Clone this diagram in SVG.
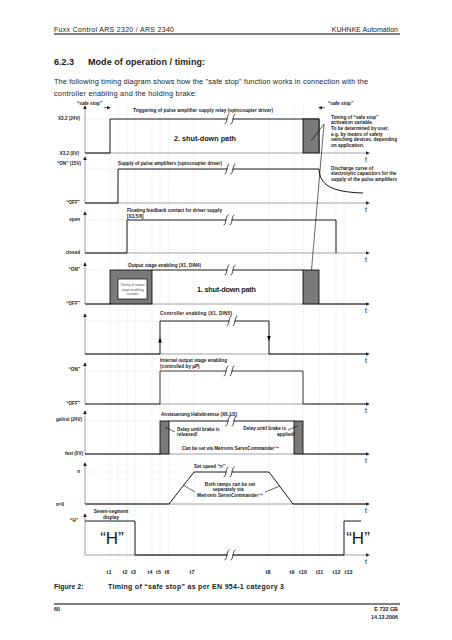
<svg xmlns="http://www.w3.org/2000/svg" width="452" height="640" viewBox="0 0 452 640">
<defs>
<style>
text{font-family:"Liberation Sans",Arial,sans-serif;fill:#1a1a1a}
.h{font-size:7px}
.p{font-size:7.3px}
.hd{font-size:9px;font-weight:bold}
.s{font-size:4.7px;font-weight:bold}
.l{font-size:4.6px;font-weight:bold;text-anchor:end}
.c{text-anchor:middle}
.e{text-anchor:end}
.t{font-size:7px}
.tk{font-size:5.4px;font-weight:bold;text-anchor:middle}
.sd{font-size:7.3px;font-weight:bold}
.big{font-size:17px;text-anchor:middle}
.in{font-size:3.4px;fill:#555;text-anchor:middle}
.sig{fill:none;stroke:#000;stroke-width:0.9}
.ax{fill:none;stroke:#b4b4b4;stroke-width:1.3}
.bl{fill:none;stroke:#8a8a8a;stroke-width:0.8}
.grid{stroke:#cdcdcd;stroke-width:0.6;stroke-dasharray:1 1.5}
.box{fill:#7a7a7a;stroke:#000;stroke-width:0.8}
.ptr{fill:none;stroke:#000;stroke-width:0.6}
.rule{stroke:#000;stroke-width:1.2}
</style>
<marker id="ar" viewBox="0 0 6 6" refX="5" refY="3" markerWidth="4" markerHeight="4" markerUnits="userSpaceOnUse" orient="auto"><path d="M0,0L6,3L0,6z" fill="#222"/></marker>
<g id="brk"><rect x="-2.6" y="-1.4" width="5.2" height="2.8" fill="#fff"/><path d="M-5.5,5 C-2.5,5 -3.5,-5 -0.5,-5 M0.5,5 C3.5,5 2.5,-5 5.5,-5" fill="none" stroke="#000" stroke-width="0.7"/></g>
</defs>
<rect width="452" height="640" fill="#fff"/>

<g id="page">
<text class="h" x="54" y="31.5" textLength="120">Fuxx Control ARS 2320 / ARS 2340</text>
<text class="h e" x="398" y="31.5">KUHNKE Automation</text>
<line class="rule" x1="54" y1="34" x2="400" y2="34"/>
<text class="hd" x="54" y="64.5">6.2.3</text>
<text class="hd" x="88" y="64.5" textLength="117">Mode of operation / timing:</text>
<text class="p" x="54" y="84.3" textLength="314">The following timing diagram shows how the "safe stop" function works in connection with the</text>
<text class="p" x="54" y="96" textLength="143">controller enabling and the holding brake:</text>
<text class="hd" style="font-size:7px" x="54" y="589.3">Figure 2:</text>
<text class="hd" style="font-size:7px" x="108" y="589.3" textLength="176">Timing of “safe stop” as per EN 954-1 category 3</text>
<line class="rule" x1="54" y1="604" x2="400" y2="604"/>
<text class="s" style="font-size:5.4px" x="54" y="611">60</text>
<text class="s e" style="font-size:5.4px" x="398" y="611">E 732 GB</text>
<text class="s e" style="font-size:5.4px" x="398" y="618.5">14.12.2006</text>
</g>

<g id="grid">
<line class="grid" x1="110" y1="104" x2="110" y2="560"/>
<line class="grid" x1="118" y1="104" x2="118" y2="560"/>
<line class="grid" x1="127" y1="104" x2="127" y2="560"/>
<line class="grid" x1="135" y1="104" x2="135" y2="560"/>
<line class="grid" x1="152" y1="104" x2="152" y2="560"/>
<line class="grid" x1="160" y1="104" x2="160" y2="560"/>
<line class="grid" x1="169" y1="104" x2="169" y2="560"/>
<line class="grid" x1="194" y1="104" x2="194" y2="560"/>
<line class="grid" x1="269" y1="104" x2="269" y2="560"/>
<line class="grid" x1="294" y1="104" x2="294" y2="560"/>
<line class="grid" x1="303" y1="104" x2="303" y2="560"/>
<line class="grid" x1="319" y1="104" x2="319" y2="560"/>
<line class="grid" x1="336" y1="104" x2="336" y2="560"/>
<line class="grid" x1="344" y1="104" x2="344" y2="560"/>
<line class="grid" x1="85" y1="119" x2="110" y2="119"/>
<line class="grid" x1="85" y1="169" x2="118" y2="169"/>
<line class="grid" x1="85" y1="220" x2="127" y2="220"/>
<line class="grid" x1="85" y1="270" x2="110" y2="270"/>
<line class="grid" x1="85" y1="321" x2="160" y2="321"/>
<line class="grid" x1="85" y1="371" x2="160" y2="371"/>
<line class="grid" x1="85" y1="421" x2="160" y2="421"/>
<line class="grid" x1="85" y1="472" x2="194" y2="472"/>
</g>

<g id="axes">
<line class="ax" x1="85" y1="153" x2="85" y2="106" marker-end="url(#ar)"/>
<line class="ax" x1="85" y1="203" x2="85" y2="157" marker-end="url(#ar)"/>
<line class="ax" x1="85" y1="253" x2="85" y2="212" marker-end="url(#ar)"/>
<line class="ax" x1="85" y1="304" x2="85" y2="263" marker-end="url(#ar)"/>
<line class="ax" x1="85" y1="354" x2="85" y2="314" marker-end="url(#ar)"/>
<line class="ax" x1="85" y1="404" x2="85" y2="363" marker-end="url(#ar)"/>
<line class="ax" x1="85" y1="454" x2="85" y2="411" marker-end="url(#ar)"/>
<line class="ax" x1="85" y1="504" x2="85" y2="463" marker-end="url(#ar)"/>
<line class="ax" x1="85" y1="555" x2="85" y2="514" marker-end="url(#ar)"/>
<line class="bl" x1="85" y1="153" x2="369" y2="153" marker-end="url(#ar)"/>
<line class="bl" x1="85" y1="203" x2="369" y2="203" marker-end="url(#ar)"/>
<line class="bl" x1="85" y1="253" x2="369" y2="253" marker-end="url(#ar)"/>
<line class="bl" x1="85" y1="304" x2="369" y2="304" marker-end="url(#ar)"/>
<line class="bl" x1="85" y1="354" x2="369" y2="354" marker-end="url(#ar)"/>
<line class="bl" x1="85" y1="404" x2="369" y2="404" marker-end="url(#ar)"/>
<line class="bl" x1="85" y1="454" x2="369" y2="454" marker-end="url(#ar)"/>
<line class="bl" x1="85" y1="504" x2="369" y2="504" marker-end="url(#ar)"/>
<line class="bl" x1="85" y1="555" x2="369" y2="555" marker-end="url(#ar)"/>
<text class="t" x="365" y="162">t</text>
<text class="t" x="365" y="212">t</text>
<text class="t" x="365" y="262">t</text>
<text class="t" x="365" y="313">t</text>
<text class="t" x="365" y="363">t</text>
<text class="t" x="365" y="413">t</text>
<text class="t" x="365" y="463">t</text>
<text class="t" x="365" y="513">t</text>
<text class="t" x="365" y="564">t</text>
</g>

<g id="sig1">
<text class="s" x="77" y="105">“safe stop”</text>
<line class="ptr" x1="104" y1="107.7" x2="110" y2="107.7" marker-end="url(#ar)"/>
<text class="l" x="80" y="120">X3.2 (24V)</text>
<text class="l" x="79" y="155">X3.2 (0V)</text>
<text class="s" x="133" y="111.5" textLength="140">Triggering of pulse amplifier supply relay (optocoupler driver)</text>
<polyline class="sig" points="85,153 110,153 110,119 319,119 319,153"/>
<rect class="box" x="303" y="119" width="16" height="34"/>
<text class="sd" x="174" y="141" textLength="62">2. shut-down path</text>
<line class="ptr" x1="325" y1="107.7" x2="319" y2="107.7" marker-end="url(#ar)"/>
<text class="s" x="328" y="105">“safe stop”</text>
<text class="s" x="331" y="118.5">Timing of “safe stop”</text>
<text class="s" x="331" y="124.2">activation variable.</text>
<text class="s" x="331" y="129.9">To be determined by user,</text>
<text class="s" x="331" y="135.6">e.g. by means of safety</text>
<text class="s" x="331" y="141.3" textLength="66">switching devices, depending</text>
<text class="s" x="331" y="147">on application.</text>
<polyline class="ptr" points="311,141 324,124 311,276"/>
</g>

<g id="sig2">
<text class="l" x="81" y="165">“ON” (15V)</text>
<text class="l" x="80" y="204">“OFF”</text>
<text class="s" x="118" y="164.5" textLength="104">Supply of pulse amplifiers (optocoupler driver)</text>
<polyline class="sig" points="85,203 118,203 118,169 319,169"/>
<path class="sig" d="M319,169 C320,185 331,192 363,193"/>
<text class="s" x="331" y="169.5">Discharge curve of</text>
<text class="s" x="331" y="175.2">electrolytic capacitors for the</text>
<text class="s" x="331" y="180.9">supply of the pulse amplifiers</text>
</g>

<g id="sig3">
<text class="l" x="80" y="221">open</text>
<text class="l" x="80" y="254">closed</text>
<text class="s" x="127" y="212" textLength="95">Floating feedback contact for driver supply</text>
<text class="s" x="127" y="217.8">[X3.5/6]</text>
<polyline class="sig" points="85,253 127,253 127,220 336,220 336,253"/>
</g>

<g id="sig4">
<text class="l" x="80" y="271">“ON”</text>
<text class="l" x="80" y="305">“OFF”</text>
<text class="s" x="128" y="266.5" textLength="73">Output stage enabling (X1, DIN4)</text>
<polyline class="sig" points="85,304 110,304"/>
<rect class="box" x="110" y="270" width="42" height="34"/>
<rect x="118" y="279" width="29" height="20" fill="#fff" stroke="#000" stroke-width="0.7"/>
<text class="in" x="132.5" y="286.2">Timing of output</text>
<text class="in" x="132.5" y="290.5">stage enabling</text>
<text class="in" x="132.5" y="295.2">variable</text>
<polyline class="sig" points="152,270 303,270"/>
<rect class="box" x="303" y="270" width="16" height="34"/>
<polyline class="sig" points="319,304 366,304"/>
<text class="sd" x="197" y="291.5" textLength="59">1. shut-down path</text>
</g>

<g id="sig5">
<text class="s" x="160" y="314.5" textLength="72">Controller enabling (X1, DIN5)</text>
<polyline class="sig" points="85,354 160,354 160,321 269,321 269,354 366,354"/>
<polygon points="158.2,342.5 161.8,342.5 160,337.5" fill="#000"/>
<polygon points="267.2,336 270.8,336 269,341" fill="#000"/>
</g>

<g id="sig6">
<text class="l" x="80" y="371">“ON”</text>
<text class="l" x="80" y="405">“OFF”</text>
<text class="s" x="160" y="361.5" textLength="67">Internal output stage enabling</text>
<text class="s" x="160" y="367.5">(controlled by µP)</text>
<polyline class="sig" points="85,404 160,404 160,371 303,371 303,404 366,404" style="stroke:#222"/>
</g>

<g id="sig7">
<text class="l" x="82" y="421">gelöst (24V)</text>
<text class="l" x="83" y="455">fest (0V)</text>
<text class="s" x="161" y="415.5" textLength="76">Ansteuerung Haltebremse (X6.1/2)</text>
<polyline class="sig" points="85,454 160,454"/>
<polyline class="sig" points="169,421 294,421"/>
<rect class="box" x="160" y="421" width="9" height="33"/>
<rect class="box" x="294" y="421" width="9" height="33"/>
<polyline class="sig" points="303,454 366,454"/>
<text class="s" x="177" y="430.5">Delay until brake is</text>
<text class="s" x="177" y="436.3">released!</text>
<line class="ptr" x1="165" y1="427" x2="175" y2="432"/>
<text class="s e" x="286" y="430">Delay until brake is</text>
<text class="s e" x="295" y="435.8">applied!</text>
<line class="ptr" x1="288" y1="430" x2="298" y2="426"/>
<text class="s" x="182" y="449.5" textLength="97">Can be set via Metronis ServoCommander™</text>
</g>

<g id="sig8">
<text class="l" x="80" y="473">n</text>
<text class="l" x="64" y="506">n=0</text>
<text class="s" x="194" y="467.5">Set speed “n”</text>
<polyline class="sig" points="85,504 169,504 194,472 269,472 293,504 366,504"/>
<text class="s c" x="230" y="485.5">Both ramps can be set</text>
<text class="s c" x="228" y="491.3">separately via</text>
<text class="s c" x="230" y="497.1">Metronis ServoCommander™</text>
<line class="ptr" x1="183" y1="485" x2="195" y2="492"/>
<line class="ptr" x1="265" y1="492" x2="280" y2="486"/>
</g>

<g id="sig9">
<text class="l" x="78" y="522">“H”</text>
<text class="s c" x="111" y="512.5">Seven-segment</text>
<text class="s c" x="111" y="518.5">display</text>
<polyline class="sig" points="85,521 135,521 135,555"/>
<line x1="135" y1="555" x2="344" y2="555" stroke="#444" stroke-width="1.4"/>
<polyline class="sig" points="344,555 344,521 361,521"/>
<text class="big" x="112" y="544">“H”</text>
<text class="big" x="358" y="544">“H”</text>
</g>

<g id="breaks">
<use href="#brk" x="230" y="119"/>
<use href="#brk" x="230" y="169"/>
<use href="#brk" x="229" y="220"/>
<use href="#brk" x="230" y="270"/>
<use href="#brk" x="232" y="321"/>
<use href="#brk" x="229" y="371"/>
<use href="#brk" x="231" y="421"/>
<use href="#brk" x="229" y="472"/>
<use href="#brk" x="230" y="555"/>
</g>

<g id="ticks">
<text class="tk" x="109" y="573.5">t1</text>
<text class="tk" x="125" y="573.5">t2</text>
<text class="tk" x="133.5" y="573.5">t3</text>
<text class="tk" x="150" y="573.5">t4</text>
<text class="tk" x="158.5" y="573.5">t5</text>
<text class="tk" x="167" y="573.5">t6</text>
<text class="tk" x="192" y="573.5">t7</text>
<text class="tk" x="268" y="573.5">t8</text>
<text class="tk" x="292" y="573.5">t9</text>
<text class="tk" x="303" y="573.5">t10</text>
<text class="tk" x="319.5" y="573.5">t11</text>
<text class="tk" x="336.5" y="573.5">t12</text>
<text class="tk" x="348.5" y="573.5">t13</text>
</g>
</svg>
